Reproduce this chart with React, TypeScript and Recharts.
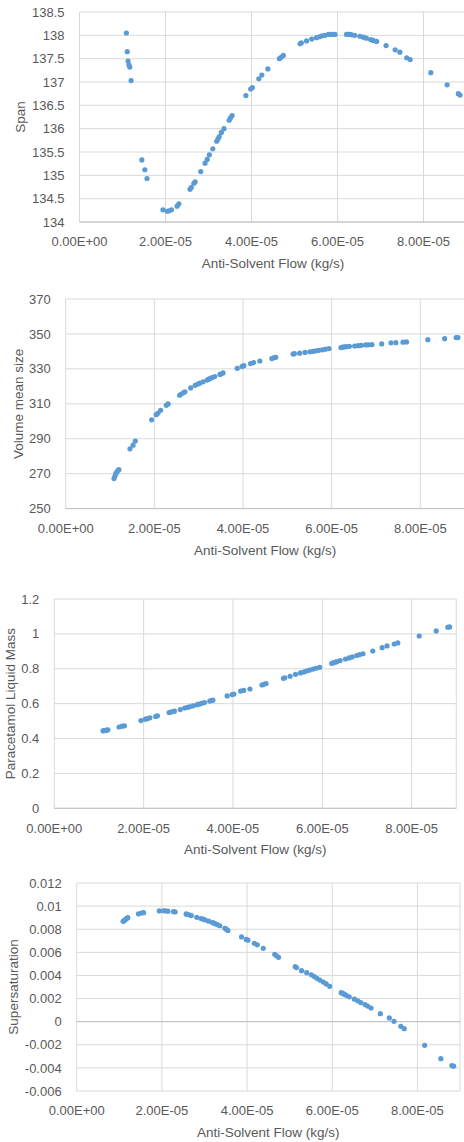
import React from 'react';
import { ScatterChart, Scatter, XAxis, YAxis, CartesianGrid, ReferenceLine } from 'recharts';

// anti-solvent flow, in units of 1e-5 kg/s
const flowE5 = [
  1.09, 1.11, 1.13, 1.15, 1.17, 1.2,
  1.45, 1.52, 1.57,
  1.94, 2.04, 2.08, 2.14, 2.27, 2.31,
  2.57, 2.6, 2.66, 2.69, 2.82, 2.92, 2.97, 3.02, 3.1, 3.19, 3.22, 3.25, 3.3, 3.36, 3.48, 3.51, 3.55,
  3.87, 3.98, 4.02, 4.17, 4.24, 4.38, 4.65, 4.69, 4.74,
  5.13, 5.16, 5.28, 5.4, 5.51, 5.58, 5.64, 5.71, 5.79, 5.86, 5.94,
  6.21, 6.25, 6.29, 6.33, 6.4, 6.52, 6.6, 6.67, 6.77, 6.83, 6.91,
  7.13, 7.34, 7.45, 7.61, 7.69,
  8.17, 8.55, 8.81, 8.85,
];

const span = [
  138.05, 137.65, 137.45, 137.37, 137.32, 137.03,
  135.33, 135.12, 134.93,
  134.26, 134.23, 134.24, 134.26, 134.34, 134.39,
  134.7, 134.74, 134.83, 134.86, 135.08, 135.26, 135.34, 135.44, 135.57, 135.73, 135.78, 135.83, 135.92, 136.0, 136.18, 136.23, 136.28,
  136.71, 136.85, 136.88, 137.07, 137.15, 137.28, 137.5, 137.53, 137.57,
  137.82, 137.84, 137.88, 137.92, 137.95, 137.97, 137.99, 138.0, 138.02, 138.02, 138.02,
  138.02, 138.02, 138.02, 138.01, 138.0, 137.98, 137.96, 137.94, 137.91, 137.89, 137.87,
  137.78, 137.69, 137.64, 137.52, 137.48,
  137.2, 136.94, 136.75, 136.72,
];

const volumeMean = [
  267.2, 268.5, 270.0, 270.8, 271.6, 272.3,
  284.2, 286.3, 288.7,
  300.8, 303.8, 304.6, 306.3, 309.1, 309.9,
  314.9, 315.4, 316.4, 316.9, 319.1, 320.6, 321.2, 321.8, 322.6, 323.6, 324.0, 324.4, 325.0, 325.6, 326.8, 327.2, 327.7,
  330.3, 331.4, 331.8, 333.0, 333.6, 334.5, 335.9, 336.3, 336.6,
  338.5, 338.7, 339.0, 339.4, 339.8, 340.0, 340.3, 340.6, 340.9, 341.3, 341.6,
  342.2, 342.4, 342.6, 342.7, 342.9, 343.1, 343.3, 343.5, 343.7, 343.8, 343.9,
  344.3, 344.9, 345.0, 345.3, 345.4,
  346.7, 347.3, 347.9, 347.9,
];

const liquidMass = [
  0.444, 0.445, 0.446, 0.447, 0.448, 0.45,
  0.466, 0.471, 0.473,
  0.503, 0.511, 0.514, 0.519, 0.527, 0.53,
  0.549, 0.551, 0.555, 0.557, 0.566, 0.575, 0.578, 0.582, 0.587, 0.593, 0.596, 0.598, 0.602, 0.606, 0.615, 0.618, 0.62,
  0.644, 0.652, 0.655, 0.672, 0.676, 0.684, 0.707, 0.711, 0.715,
  0.745, 0.748, 0.757, 0.768, 0.776, 0.781, 0.787, 0.792, 0.798, 0.803, 0.808,
  0.831, 0.834, 0.838, 0.841, 0.847, 0.856, 0.862, 0.868, 0.876, 0.881, 0.886,
  0.902, 0.921, 0.931, 0.942, 0.948,
  0.988, 1.017, 1.038, 1.04,
];

const supersaturation = [
  0.00868, 0.00874, 0.0088, 0.00886, 0.00892, 0.009,
  0.00933, 0.0094, 0.00943,
  0.00958, 0.0096, 0.00959, 0.00956, 0.00953, 0.0095,
  0.00932, 0.00928, 0.00922, 0.00918, 0.00903, 0.00892, 0.00887, 0.0088, 0.0087, 0.00858, 0.00853, 0.00848, 0.0084, 0.0083, 0.00808, 0.008, 0.0079,
  0.00733, 0.00712, 0.00705, 0.00678, 0.00665, 0.00635, 0.00583, 0.0057, 0.00557,
  0.00476, 0.00468, 0.00441, 0.00424, 0.00405, 0.0039, 0.00375, 0.0036, 0.00343, 0.00327, 0.00306,
  0.00251, 0.00244, 0.00236, 0.00228, 0.00215, 0.00195, 0.0018, 0.00165, 0.00148, 0.00135, 0.00118,
  0.00069, 0.00032, 0.00003, -0.0004, -0.00061,
  -0.00205, -0.0032, -0.0038, -0.00385,
];

const flowTicks = [0, 2e-5, 4e-5, 6e-5, 8e-5];
const spanTicks = [134, 134.5, 135, 135.5, 136, 136.5, 137, 137.5, 138, 138.5];
const volumeTicks = [250, 270, 290, 310, 330, 350, 370];
const massTicks = [0, 0.2, 0.4, 0.6, 0.8, 1, 1.2];
const supersatTicks = [-0.006, -0.004, -0.002, 0, 0.002, 0.004, 0.006, 0.008, 0.01, 0.012];

const FONT = '"Liberation Sans", Arial, sans-serif';
const TEXT = '#595959';
const GRID = '#d9d9d9';
const AXIS = '#bfbfbf';
const DOT = '#5b9bd5';

// Excel style scientific labels: 2.00E-05
const sci = (v: number) => {
  if (v === 0) return '0.00E+00';
  const [m, e] = v.toExponential(2).split('e');
  const n = parseInt(e, 10);
  return `${m}E${n < 0 ? '-' : '+'}${String(Math.abs(n)).padStart(2, '0')}`;
};

interface PanelProps {
  top: number;       // page y of the plot's top edge
  bottom: number;    // page y of the plot's bottom edge
  left: number;      // page x of x = 0
  right: number;     // page x of x = 9e-5
  ys: number[];
  yTicks: number[];
  yLabel: string;
  yLabelX: number;
  zeroLine?: boolean;
}

const Panel: React.FC<PanelProps> = ({ top, bottom, left, right, ys, yTicks, yLabel, yLabelX, zeroLine }) => {
  const sectionTop = top - 20;
  const width = right + 6;
  const height = bottom - sectionTop + 56;
  const data = flowE5.map((f, i) => ({ x: f * 1e-5, y: ys[i] }));
  const tick = { fill: TEXT, fontSize: 13, fontFamily: FONT };

  return (
    <div style={{ position: 'absolute', top: sectionTop, left: 0 }}>
      <ScatterChart
        width={width}
        height={height}
        margin={{ top: 20, right: 6, bottom: 6, left: 0 }}
        style={{ fontFamily: FONT }}
      >
        <CartesianGrid stroke={GRID} strokeWidth={1} />
        <XAxis
          type="number"
          dataKey="x"
          domain={[0, 9e-5]}
          ticks={flowTicks}
          tickFormatter={sci}
          tick={tick}
          tickLine={false}
          tickSize={0}
          tickMargin={15}
          axisLine={zeroLine ? false : { stroke: AXIS }}
          height={50}
          allowDataOverflow
          label={{ value: 'Anti-Solvent Flow (kg/s)', position: 'insideBottom', offset: 4, fill: TEXT, fontSize: 13.5, fontFamily: FONT }}
        />
        <YAxis
          type="number"
          dataKey="y"
          width={left}
          domain={[yTicks[0], yTicks[yTicks.length - 1]]}
          ticks={yTicks}
          tickFormatter={(v: number) => String(v)}
          tick={tick}
          tickLine={false}
          tickSize={0}
          tickMargin={15}
          axisLine={false}
          allowDataOverflow
          label={{ value: yLabel, angle: -90, position: 'insideLeft', offset: yLabelX, fill: TEXT, fontSize: 13.5, fontFamily: FONT, style: { textAnchor: 'middle' } }}
        />
        {zeroLine && <ReferenceLine y={0} stroke={AXIS} strokeWidth={1} />}
        <Scatter
          data={data}
          isAnimationActive={false}
          shape={(p: any) => <circle cx={p.cx} cy={p.cy} r={2.6} fill={DOT} />}
        />
      </ScatterChart>
    </div>
  );
};

export default function App() {
  return (
    <div style={{ position: 'absolute', top: 0, left: 0, width: 464, height: 1142, overflow: 'hidden', background: '#fff' }}>
      <Panel top={12.3} bottom={222.3} left={79.5} right={466.5} ys={span} yTicks={spanTicks} yLabel="Span" yLabelX={20} />
      <Panel top={298.7} bottom={508.3} left={65.7} right={464.6} ys={volumeMean} yTicks={volumeTicks} yLabel="Volume mean size" yLabelX={18} />
      <Panel top={599} bottom={808.3} left={54.3} right={456.3} ys={liquidMass} yTicks={massTicks} yLabel="Paracetamol Liquid Mass" yLabelX={10} />
      <Panel top={882.7} bottom={1090.7} left={76.7} right={460} ys={supersaturation} yTicks={supersatTicks} yLabel="Supersaturation" yLabelX={13.3} zeroLine />
    </div>
  );
}
